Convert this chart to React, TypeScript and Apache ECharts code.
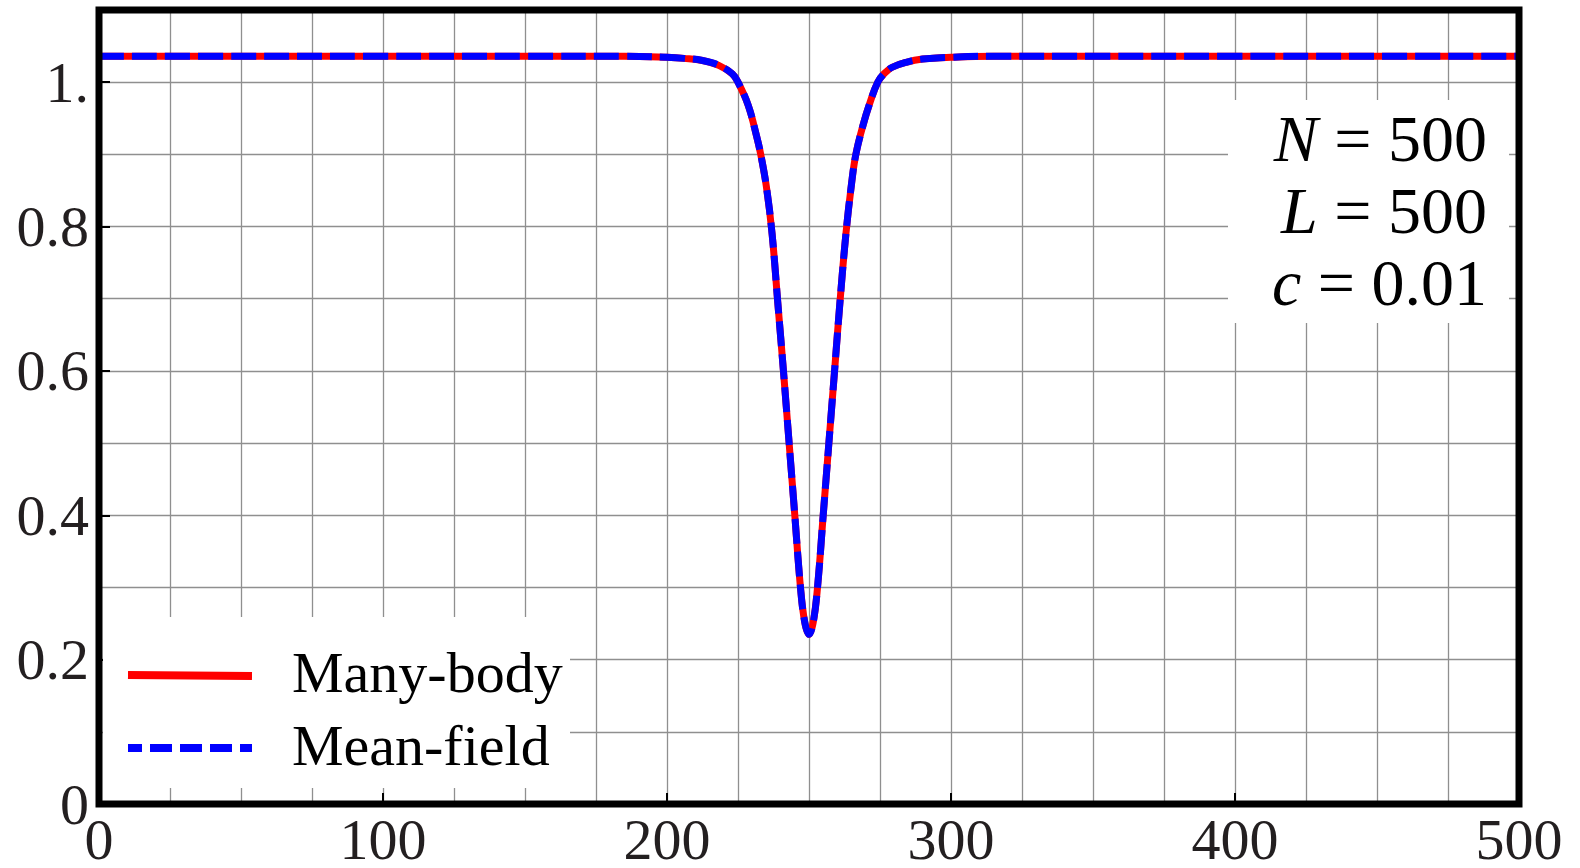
import React, { useEffect, useRef } from "react";
import * as echarts from "echarts";

// position along the chain (x) and the two density profiles
const xs = [
  0, 50, 100, 150, 185, 200, 206, 212.5, 218.4, 223, 225, 228.6, 231.5, 233, 235, 237, 239,
  241, 243, 245, 247, 248.5, 250, 251.5, 253, 255, 257, 259, 261, 263, 265, 266.5, 269, 271.5,
  274.2, 276.5, 279.3, 284.2, 290, 300, 315, 350, 400, 450, 500,
];
const manyBody = [
  1.036, 1.036, 1.036, 1.036, 1.036, 1.0345, 1.033, 1.03, 1.023, 1.0115, 1.0, 0.968, 0.926, 0.9,
  0.855, 0.79, 0.695, 0.6, 0.5, 0.4, 0.3, 0.252, 0.235, 0.252, 0.3, 0.4, 0.5, 0.6, 0.7, 0.79,
  0.86, 0.9, 0.94, 0.972, 1.0, 1.012, 1.0207, 1.0276, 1.032, 1.0345, 1.036, 1.036, 1.036, 1.036,
  1.036,
];
const meanField = [
  1.036, 1.036, 1.036, 1.036, 1.036, 1.0345, 1.033, 1.03, 1.023, 1.0115, 1.0, 0.968, 0.926, 0.9,
  0.855, 0.79, 0.695, 0.6, 0.5, 0.4, 0.3, 0.252, 0.235, 0.252, 0.3, 0.4, 0.5, 0.6, 0.7, 0.79,
  0.86, 0.9, 0.94, 0.972, 1.0, 1.012, 1.0207, 1.0276, 1.032, 1.0345, 1.036, 1.036, 1.036, 1.036,
  1.036,
];
const seriesNames = ["Many-body", "Mean-field"];
const seriesColors = ["#ff0000", "#0000ff"];
const yTicks = [0, 0.2, 0.4, 0.6, 0.8, 1];
const yTickLabels = ["0", "0.2", "0.4", "0.6", "0.8", "1."];
const xTicks = [0, 100, 200, 300, 400, 500];
const xTickLabels = ["0", "100", "200", "300", "400", "500"];
const paramLines = [
  ["N", " = 500"],
  ["L", " = 500"],
  ["c", " = 0.01"],
];

const FONT = "'Liberation Serif', 'Times New Roman', serif";
const TXT = "#231f20";

function labelFor(v: number, ticks: number[], labels: string[]) {
  for (let i = 0; i < ticks.length; i++) {
    if (Math.abs(ticks[i] - v) < 1e-6) return labels[i];
  }
  return "";
}

export default function App() {
  const ref = useRef<HTMLDivElement>(null);
  useEffect(() => {
    document.body.style.margin = "0";
    if (!ref.current) return;
    const chart = echarts.init(ref.current, null, { renderer: "svg" });
    const option: any = {
      animation: false,
      backgroundColor: "#fff",
      grid: {
        left: 99,
        right: 61,
        top: 10,
        bottom: 60,
        show: true,
        borderColor: "#000",
        borderWidth: 7,
        backgroundColor: "transparent",
        z: 5,
      },
      graphic: [
        // parameter box
        {
          type: "rect",
          z: 10,
          shape: { x: 1228, y: 100, width: 281, height: 223 },
          style: { fill: "#fff" },
        },
        {
          type: "text",
          z: 11,
          x: 1487,
          y: 102,
          style: {
            text: paramLines.map((p) => `{i|${p[0]}}${p[1]}`).join("\n"),
            align: "right",
            verticalAlign: "top",
            fontFamily: FONT,
            fontSize: 66,
            lineHeight: 72,
            fill: "#000",
            rich: {
              i: { fontFamily: FONT, fontSize: 66, fontStyle: "italic", lineHeight: 72, fill: "#000" },
            },
          },
        },
        // legend box
        {
          type: "rect",
          z: 10,
          shape: { x: 103, y: 617, width: 467, height: 171 },
          style: { fill: "#fff" },
        },
        {
          type: "line",
          z: 11,
          shape: { x1: 128, y1: 675, x2: 252, y2: 676 },
          style: { stroke: seriesColors[0], lineWidth: 8 },
        },
        {
          type: "line",
          z: 11,
          shape: { x1: 128, y1: 748, x2: 252, y2: 748 },
          style: { stroke: seriesColors[1], lineWidth: 8, lineDash: [14, 8, 22, 8, 22, 8, 22, 8, 14] },
        },
        {
          type: "text",
          z: 11,
          x: 292,
          y: 672,
          style: {
            text: seriesNames[0],
            verticalAlign: "middle",
            fontFamily: FONT,
            fontSize: 58,
            fill: "#000",
          },
        },
        {
          type: "text",
          z: 11,
          x: 292,
          y: 745,
          style: {
            text: seriesNames[1],
            verticalAlign: "middle",
            fontFamily: FONT,
            fontSize: 58,
            fill: "#000",
          },
        },
      ],
      xAxis: [
        {
          type: "value",
          min: 0,
          max: 500,
          interval: 25,
          axisLine: { show: false },
          axisTick: { show: false },
          axisLabel: { show: false },
          splitLine: { show: true, lineStyle: { color: "#8f8f8f", width: 1.3 } },
        },
        {
          type: "value",
          min: 0,
          max: 500,
          interval: 100,
          position: "bottom",
          axisLine: { show: false },
          axisTick: { show: true, inside: true, length: 11, lineStyle: { color: "#000", width: 2 } },
          axisLabel: {
            fontFamily: FONT,
            fontSize: 58,
            lineHeight: 40,
            color: TXT,
            margin: 15,
            formatter: (v: number) => labelFor(v, xTicks, xTickLabels),
          },
          splitLine: { show: false },
        },
      ],
      yAxis: [
        {
          type: "value",
          min: 0,
          max: 1.1,
          interval: 0.1,
          axisLine: { show: false },
          axisTick: { show: false },
          axisLabel: { show: false },
          splitLine: { show: true, lineStyle: { color: "#8f8f8f", width: 1.3 } },
        },
        {
          type: "value",
          min: 0,
          max: 1.1,
          interval: 0.2,
          position: "left",
          axisLine: { show: false },
          axisTick: { show: true, inside: true, length: 11, lineStyle: { color: "#000", width: 2 } },
          axisLabel: {
            fontFamily: FONT,
            fontSize: 58,
            color: TXT,
            margin: 10,
            formatter: (v: number) => labelFor(v, yTicks, yTickLabels),
          },
          splitLine: { show: false },
        },
      ],
      series: [
        {
          name: seriesNames[0],
          type: "line",
          xAxisIndex: 0,
          yAxisIndex: 0,
          data: xs.map((x, i) => [x, manyBody[i]]),
          symbol: "none",
          smooth: 0.4,
          color: seriesColors[0],
          lineStyle: { color: seriesColors[0], width: 7, join: "round" },
          z: 2,
        },
        {
          name: seriesNames[1],
          type: "line",
          xAxisIndex: 0,
          yAxisIndex: 0,
          data: xs.map((x, i) => [x, meanField[i]]),
          symbol: "none",
          smooth: 0.4,
          color: seriesColors[1],
          lineStyle: { color: seriesColors[1], width: 7, type: [25, 8], join: "round" },
          z: 3,
        },
      ],
    };
    chart.setOption(option);
    return () => chart.dispose();
  }, []);
  return <div ref={ref} style={{ width: 1580, height: 868 }} />;
}
